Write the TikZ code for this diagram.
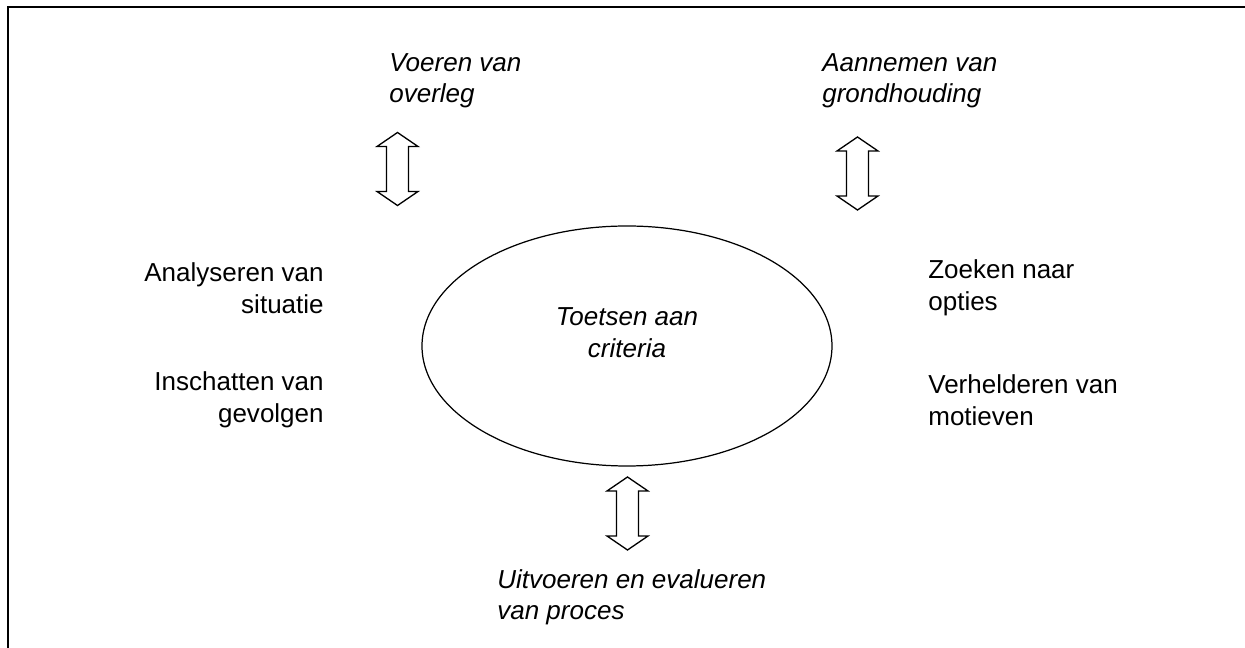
\documentclass[tikz,border=0pt]{standalone}
\usepackage{fontspec}
\setmainfont{Liberation Sans}
\usepackage{tikz}
\usetikzlibrary{shapes,positioning}

\tikzset{
	label text/.style={inner sep=0pt, font=\fontsize{14.8}{17.9}\selectfont},
	dubbelpijl/.pic={
		\draw[line width=0.75pt, line join=miter] (0,0.73) -- (0.41,0.45) -- (0.22,0.45) -- (0.22,-0.45) -- (0.41,-0.45) -- (0,-0.73)
			-- (-0.41,-0.45) -- (-0.22,-0.45) -- (-0.22,0.45) -- (-0.41,0.45) -- cycle;
	}
}

\begin{document}
\begin{tikzpicture}
		\useasboundingbox (0,0) rectangle (24.9,12.96);
		\draw[line width=1.2pt] (0.16,0) -- (0.16,12.82) -- (24.9,12.82);

		\node[ellipse, draw, line width=0.7pt, minimum width=8.2cm, minimum height=4.8cm] (toetsen) at (12.54,6.04) {};
		\node[label text, align=center] (criteria) at (12.54,6.31) {\itshape Toetsen aan\\\itshape criteria};

		\node[label text, align=left, anchor=west] (overleg) at (7.78,11.34) {\itshape Voeren van\\\itshape overleg};
		\node[label text, align=left, anchor=west] (grondhouding) at (16.44,11.34) {\itshape Aannemen van\\\itshape grondhouding};
		\node[label text, align=left, anchor=west] (proces) at (9.94,1.01) {\itshape Uitvoeren en evalueren\\\itshape van proces};

		\node[label text, align=right, anchor=east] (situatie) at (6.48,7.2) {Analyseren van\\situatie};
		\node[label text, align=right, anchor=east] (gevolgen) at (6.48,4.96) {Inschatten van\\gevolgen};
		\node[label text, align=left, anchor=west] (opties) at (18.56,7.2) {Zoeken naar\\opties};
		\node[label text, align=left, anchor=west] (motieven) at (18.56,4.96) {Verhelderen van\\motieven};

		\pic (pijl1) at (7.95,9.58) {dubbelpijl};
		\pic (pijl2) at (17.15,9.49) {dubbelpijl};
		\pic (pijl3) at (12.55,2.69) {dubbelpijl};
	\end{tikzpicture}
\end{document}
